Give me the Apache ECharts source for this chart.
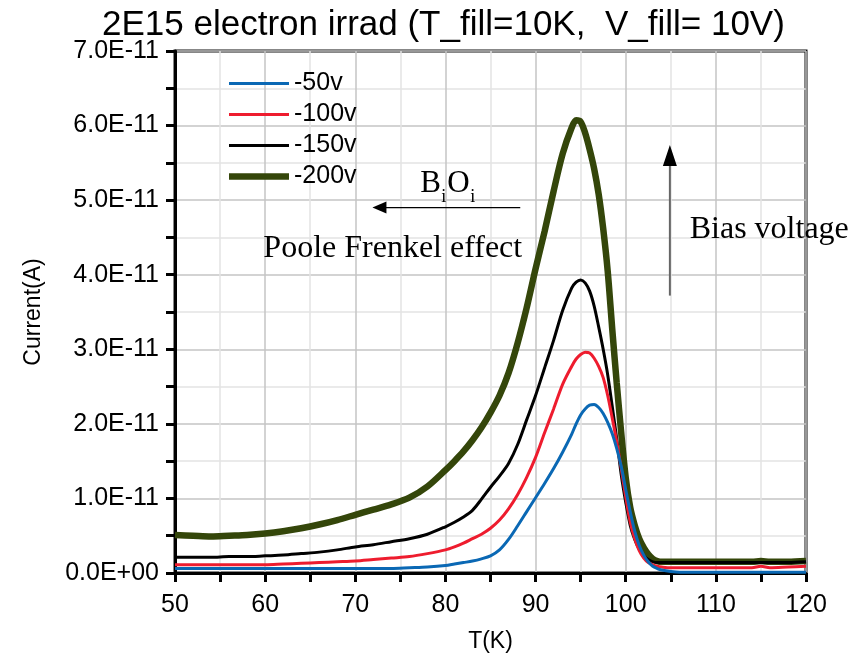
<!DOCTYPE html>
<html>
<head>
<meta charset="utf-8">
<script src="https://cdn.jsdelivr.net/npm/echarts@6/dist/echarts.min.js"></script>
<style>html,body{margin:0;padding:0;background:#fff}#c{width:868px;height:658px}</style>
</head>
<body>
<div id="c"></div>
<script>
// Temperature (K)
const temps = [50,52,54,56,58,60,62,64,66,68,70,72,74,76,78,80,
  81,82,83,84,85,86,87,88,89,90,91,92,93,94,
  94.5,95,95.5,96,96.5,97,97.5,98,98.5,99,99.5,100,100.5,101,101.5,102,102.5,103,103.5,
  104,105,106,108,110,112,114,115,116,118,120];

// Current in units of 1E-11 A
const cur_m50 = [0.06,0.06,0.06,0.06,0.06,0.06,0.06,0.06,0.06,0.06,0.06,0.06,0.06,0.07,0.08,0.10,
  0.12,0.14,0.16,0.19,0.23,0.31,0.45,0.63,0.82,1.01,1.20,1.40,1.62,1.86,
  2.00,2.12,2.20,2.25,2.26,2.22,2.14,2.02,1.87,1.67,1.43,1.12,0.82,0.56,0.37,0.24,0.15,0.09,0.06,
  0.04,0.02,0.01,0.01,0.01,0.01,0.01,0.01,0.01,0.01,0.01];
const cur_m100 = [0.11,0.11,0.11,0.11,0.11,0.11,0.12,0.13,0.14,0.15,0.16,0.18,0.20,0.22,0.26,0.31,
  0.35,0.40,0.46,0.52,0.60,0.71,0.86,1.05,1.28,1.55,1.88,2.20,2.53,2.77,
  2.87,2.93,2.96,2.95,2.88,2.77,2.62,2.38,2.08,1.76,1.40,1.02,0.68,0.46,0.30,0.20,0.14,0.11,0.09,
  0.08,0.07,0.07,0.07,0.07,0.07,0.07,0.09,0.07,0.08,0.09];
const cur_m150 = [0.21,0.21,0.21,0.22,0.22,0.23,0.24,0.26,0.28,0.31,0.35,0.38,0.42,0.46,0.52,0.62,
  0.68,0.75,0.84,0.99,1.15,1.30,1.47,1.72,2.05,2.38,2.75,3.12,3.52,3.82,
  3.90,3.93,3.89,3.78,3.58,3.30,3.00,2.66,2.24,1.80,1.32,0.95,0.64,0.45,0.32,0.23,0.18,0.15,0.14,
  0.14,0.14,0.14,0.14,0.14,0.14,0.14,0.14,0.14,0.14,0.15];
const cur_m200 = [0.51,0.50,0.49,0.50,0.51,0.53,0.56,0.60,0.65,0.71,0.78,0.85,0.92,1.01,1.16,1.38,
  1.50,1.63,1.78,1.95,2.15,2.38,2.68,3.08,3.55,4.08,4.58,5.12,5.62,5.97,
  6.07,6.05,5.90,5.68,5.42,5.08,4.62,4.05,3.28,2.55,1.88,1.28,0.88,0.64,0.46,0.34,0.25,0.19,0.16,
  0.15,0.15,0.15,0.15,0.15,0.15,0.15,0.16,0.15,0.15,0.16];

const seriesNames = ['-50v','-100v','-150v','-200v'];
const seriesData = [cur_m50, cur_m100, cur_m150, cur_m200];
const seriesColors = ['#0a68b4','#ee1c2e','#000000','#34460a'];
const seriesWidths = [3, 3, 3, 6.5];
const seriesZ = [5, 4, 3, 2];

const titleText = '2E15 electron irrad (T_fill=10K,  V_fill= 10V)';
const xName = 'T(K)';
const yName = 'Current(A)';

const sans = 'Liberation Sans, Arial, sans-serif';
const serif = 'Liberation Serif, Times New Roman, serif';

const chart = echarts.init(document.getElementById('c'));

const option = {
  animation: false,
  backgroundColor: '#ffffff',
  title: {
    text: titleText, left: 97, top: 3,
    textStyle: {fontFamily: sans, fontSize: 35, fontWeight: 'normal', color: '#000'}
  },
  grid: {left: 175, right: 62, top: 51, bottom: 79, show: true,
         borderColor: '#111', borderWidth: 3, backgroundColor: 'transparent'},
  legend: {
    orient: 'vertical', left: 224, top: 66, itemWidth: 60, itemHeight: 14, itemGap: 6,
    data: seriesNames.map((n, i) => ({
      name: n,
      icon: 'path://M0,0 L60,0 L60,' + seriesWidths[i] + ' L0,' + seriesWidths[i] + ' Z',
      itemStyle: {color: seriesColors[i]}
    })),
    textStyle: {fontFamily: sans, fontSize: 25, color: '#000'}
  },
  xAxis: {
    type: 'value', min: 50, max: 120, interval: 5,
    name: xName, nameLocation: 'middle', nameGap: 57,
    nameTextStyle: {fontFamily: sans, fontSize: 23, color: '#000'},
    axisLine: {lineStyle: {color: '#000', width: 3}},
    axisTick: {inside: false, length: 9, lineStyle: {color: '#000', width: 3}},
    axisLabel: {formatter: v => (v % 10 === 0 ? String(v) : ''), fontFamily: sans,
                fontSize: 25, color: '#000', margin: 20},
    splitLine: {show: true, lineStyle: {color: ['#c4c4c4', '#e3e3e3'], width: 1.5}}
  },
  yAxis: {
    type: 'value', min: 0, max: 7, interval: 0.5,
    name: yName, nameLocation: 'middle', nameGap: 130,
    nameTextStyle: {fontFamily: sans, fontSize: 23, color: '#000'},
    axisLine: {show: true, lineStyle: {color: '#000', width: 3}},
    axisTick: {show: true, inside: false, length: 9, lineStyle: {color: '#000', width: 3}},
    axisLabel: {formatter: v => (Math.abs(v - Math.round(v)) > 1e-9 ? '' : (v === 0 ? '0.0E+00' : v.toFixed(1) + 'E-11')),
                fontFamily: sans, fontSize: 25, color: '#000', margin: 16},
    splitLine: {show: true, lineStyle: {color: ['#c4c4c4', '#e3e3e3'], width: 1.5}}
  },
  series: seriesNames.map((n, i) => ({
    name: n, type: 'line', showSymbol: false, symbol: 'none', smooth: 0.3,
    data: temps.map((t, k) => [t, seriesData[i][k]]),
    lineStyle: {color: seriesColors[i], width: seriesWidths[i]},
    itemStyle: {color: seriesColors[i]},
    z: seriesZ[i]
  }))
};
chart.setOption(option);

// Annotations anchored in data coordinates
const annArrowLeft = {from: [88.3, 4.9], to: [71.9, 4.9]};
const annBiOi = [77.2, 5.22];
const annPoole = [59.8, 4.36];
const annArrowUp = {from: [104.9, 3.72], to: [104.9, 5.74]};
const annBias = [107.1, 4.61];

const px = p => chart.convertToPixel({gridIndex: 0}, p);
const a1 = px(annArrowLeft.from), a2 = px(annArrowLeft.to);
const b0 = px(annBiOi);
const p0 = px(annPoole);
const u1 = px(annArrowUp.from), u2 = px(annArrowUp.to);
const bs = px(annBias);

chart.setOption({
  graphic: [
    {type: 'line', shape: {x1: a1[0], y1: a1[1], x2: a2[0] + 12, y2: a2[1]}, style: {stroke: '#000', lineWidth: 1.2}, z: 10},
    {type: 'polygon', shape: {points: [[a2[0], a2[1]], [a2[0] + 14, a2[1] - 6], [a2[0] + 14, a2[1] + 6]]}, style: {fill: '#000'}, z: 10},
    {type: 'text', x: b0[0], y: b0[1], style: {text: 'B', font: '31px ' + serif, fill: '#000', verticalAlign: 'middle'}, z: 10},
    {type: 'text', x: b0[0] + 21, y: b0[1] + 14, style: {text: 'i', font: '18px ' + serif, fill: '#000', verticalAlign: 'middle'}, z: 10},
    {type: 'text', x: b0[0] + 27, y: b0[1], style: {text: 'O', font: '31px ' + serif, fill: '#000', verticalAlign: 'middle'}, z: 10},
    {type: 'text', x: b0[0] + 50, y: b0[1] + 14, style: {text: 'i', font: '18px ' + serif, fill: '#000', verticalAlign: 'middle'}, z: 10},
    {type: 'text', x: p0[0], y: p0[1] + 1, style: {text: 'Poole Frenkel effect', font: '32px ' + serif, fill: '#000', verticalAlign: 'middle'}, z: 10},
    {type: 'line', shape: {x1: u1[0], y1: u1[1], x2: u2[0], y2: u2[1] + 16}, style: {stroke: '#666', lineWidth: 2}, z: 10},
    {type: 'polygon', shape: {points: [[u2[0], u2[1]], [u2[0] - 7, u2[1] + 21], [u2[0] + 7, u2[1] + 21]]}, style: {fill: '#000'}, z: 10},
    {type: 'text', x: bs[0], y: bs[1], style: {text: 'Bias voltage', font: '32px ' + serif, fill: '#000', verticalAlign: 'middle'}, z: 10}
  ]
});
</script>
</body>
</html>
